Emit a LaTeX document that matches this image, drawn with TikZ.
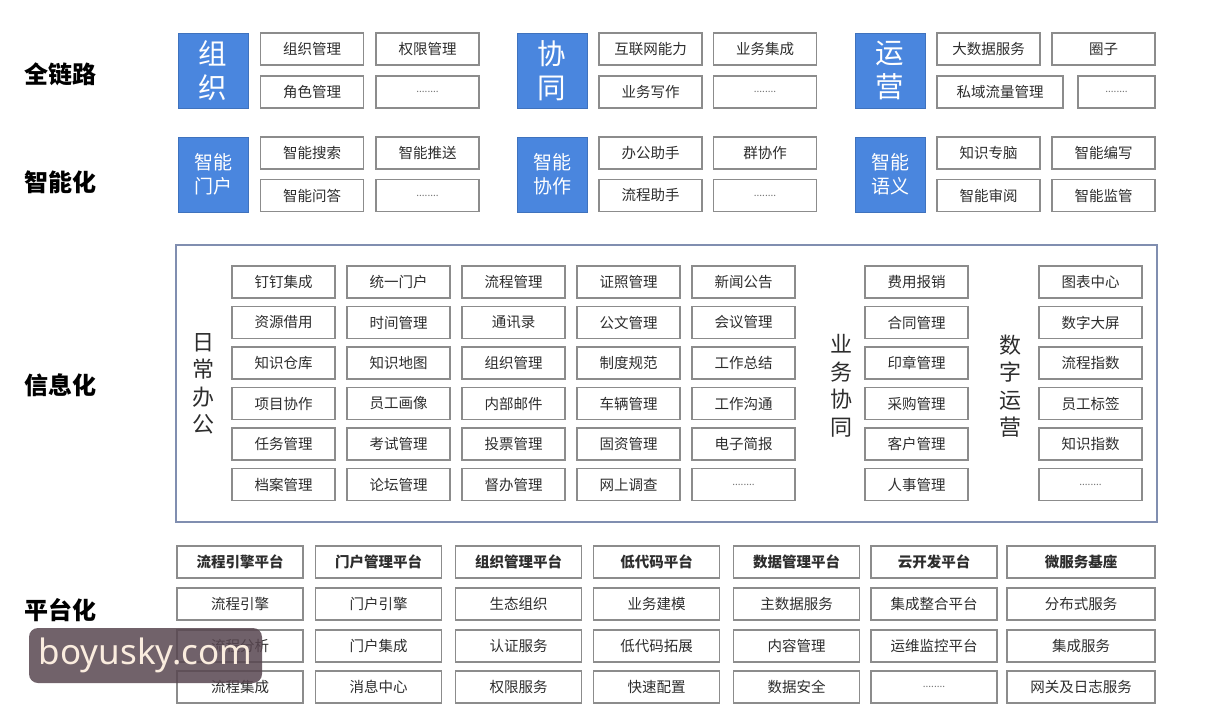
\documentclass[tikz,border=0pt]{standalone}
\usepackage{fontspec}
\setmainfont{Noto Sans CJK SC}
\newfontfamily\markfont{Noto Sans}
\usepackage{tikz}
\definecolor{headblue}{RGB}{74,134,222}
\definecolor{boxline}{RGB}{140,140,140}
\definecolor{frameline}{RGB}{128,142,176}
\definecolor{inktext}{RGB}{45,45,45}
\definecolor{markfill}{RGB}{88,70,80}
\definecolor{markink}{RGB}{250,236,222}
\tikzset{
  cell/.style={draw=boxline,line width=1.1pt,fill=white,minimum width=103pt,minimum height=32pt,inner sep=0pt,text=inktext,font=\fontsize{14.5}{16}\selectfont},
  dotcell/.style={cell,font=\fontsize{10}{12}\selectfont,text=black!55},
  platcell/.style={cell,minimum width=126pt},
  plathead/.style={platcell,font=\fontsize{14.5}{16}\selectfont\bfseries},
  headbox/.style={fill=headblue,draw=headblue!85!black,line width=0.8pt,minimum width=70pt,minimum height=75pt,inner sep=0pt,text=white,align=center},
  bighead/.style={headbox,font=\fontsize{28.5}{34}\selectfont},
  smallhead/.style={headbox,font=\fontsize{19}{24}\selectfont},
  tier/.style={font=\fontsize{24}{26}\selectfont\bfseries,text=black},
  colname/.style={font=\fontsize{22}{27.5}\selectfont,text=inktext,align=center}
}

\begin{document}
\begin{tikzpicture}[x=1pt,y=-1pt]
\useasboundingbox (0,0) rectangle (1215,712);
% tier labels on the left
\node[tier] (tFull) at (60,74) {全链路};
\node[tier] (tSmart) at (60,182) {智能化};
\node[tier] (tInfo) at (60,385) {信息化};
\node[tier] (tPlat) at (60,610) {平台化};
% full chain: org, collab, ops
\node[bighead] (org) at (213,70.5) {组\\织};
\node[cell] (org1) at (312,49) {组织管理};
\node[cell] (org2) at (427.5,49) {权限管理};
\node[cell] (org3) at (312,92) {角色管理};
\node[dotcell] (org4) at (427.5,92) {........};
\node[bighead] (col) at (552,70.5) {协\\同};
\node[cell] (col1) at (650.5,49) {互联网能力};
\node[cell] (col2) at (765,49) {业务集成};
\node[cell] (col3) at (650.5,92) {业务写作};
\node[dotcell] (col4) at (765,92) {........};
\node[bighead] (ops) at (890,70.5) {运\\营};
\node[cell] (ops1) at (988.5,49) {大数据服务};
\node[cell] (ops2) at (1103.5,49) {圈子};
\node[cell,minimum width=126pt] (ops3) at (1000,92) {私域流量管理};
\node[dotcell,minimum width=77pt] (ops4) at (1116.5,92) {........};
% smart layer
\node[smallhead] (aiP) at (213,174.5) {智能\\门户};
\node[cell] (aiP1) at (312,153) {智能搜索};
\node[cell] (aiP2) at (427.5,153) {智能推送};
\node[cell] (aiP3) at (312,195.5) {智能问答};
\node[dotcell] (aiP4) at (427.5,195.5) {........};
\node[smallhead] (aiC) at (552,174.5) {智能\\协作};
\node[cell] (aiC1) at (650.5,153) {办公助手};
\node[cell] (aiC2) at (765,153) {群协作};
\node[cell] (aiC3) at (650.5,195.5) {流程助手};
\node[dotcell] (aiC4) at (765,195.5) {........};
\node[smallhead] (aiS) at (890,174.5) {智能\\语义};
\node[cell] (aiS1) at (988.5,153) {知识专脑};
\node[cell] (aiS2) at (1103.5,153) {智能编写};
\node[cell] (aiS3) at (988.5,195.5) {智能审阅};
\node[cell] (aiS4) at (1103.5,195.5) {智能监管};
% information layer frame
\node[draw=frameline,line width=1.5pt,minimum width=981pt,minimum height=277pt,inner sep=0pt] (frame) at (666.5,383.5) {};
\node[colname] (daily) at (203,384) {日\\常\\办\\公};
\node[colname] (biz) at (841,386) {业\\务\\协\\同};
\node[colname] (dig) at (1010,386) {数\\字\\运\\营};
% daily office grid
\node[cell] (d11) at (283.5,282) {钉钉集成};
\node[cell] (d12) at (398.5,282) {统一门户};
\node[cell] (d13) at (513.5,282) {流程管理};
\node[cell] (d14) at (628.5,282) {证照管理};
\node[cell] (d15) at (743.5,282) {新闻公告};
\node[cell] (d21) at (283.5,322.5) {资源借用};
\node[cell] (d22) at (398.5,322.5) {时间管理};
\node[cell] (d23) at (513.5,322.5) {通讯录};
\node[cell] (d24) at (628.5,322.5) {公文管理};
\node[cell] (d25) at (743.5,322.5) {会议管理};
\node[cell] (d31) at (283.5,363) {知识仓库};
\node[cell] (d32) at (398.5,363) {知识地图};
\node[cell] (d33) at (513.5,363) {组织管理};
\node[cell] (d34) at (628.5,363) {制度规范};
\node[cell] (d35) at (743.5,363) {工作总结};
\node[cell] (d41) at (283.5,403.5) {项目协作};
\node[cell] (d42) at (398.5,403.5) {员工画像};
\node[cell] (d43) at (513.5,403.5) {内部邮件};
\node[cell] (d44) at (628.5,403.5) {车辆管理};
\node[cell] (d45) at (743.5,403.5) {工作沟通};
\node[cell] (d51) at (283.5,444) {任务管理};
\node[cell] (d52) at (398.5,444) {考试管理};
\node[cell] (d53) at (513.5,444) {投票管理};
\node[cell] (d54) at (628.5,444) {固资管理};
\node[cell] (d55) at (743.5,444) {电子简报};
\node[cell] (d61) at (283.5,484.5) {档案管理};
\node[cell] (d62) at (398.5,484.5) {论坛管理};
\node[cell] (d63) at (513.5,484.5) {督办管理};
\node[cell] (d64) at (628.5,484.5) {网上调查};
\node[dotcell] (d65) at (743.5,484.5) {........};
% business and digital columns
\node[cell] (biz1) at (916.5,282) {费用报销};
\node[cell] (biz2) at (916.5,322.5) {合同管理};
\node[cell] (biz3) at (916.5,363) {印章管理};
\node[cell] (biz4) at (916.5,403.5) {采购管理};
\node[cell] (biz5) at (916.5,444) {客户管理};
\node[cell] (biz6) at (916.5,484.5) {人事管理};
\node[cell] (dig1) at (1090.5,282) {图表中心};
\node[cell] (dig2) at (1090.5,322.5) {数字大屏};
\node[cell] (dig3) at (1090.5,363) {流程指数};
\node[cell] (dig4) at (1090.5,403.5) {员工标签};
\node[cell] (dig5) at (1090.5,444) {知识指数};
\node[dotcell] (dig6) at (1090.5,484.5) {........};
% platform layer
\node[plathead] (p11) at (240,562) {流程引擎平台};
\node[plathead] (p21) at (378.5,562) {门户管理平台};
\node[plathead] (p31) at (518.5,562) {组织管理平台};
\node[plathead] (p41) at (656.5,562) {低代码平台};
\node[plathead] (p51) at (796.5,562) {数据管理平台};
\node[plathead] (p61) at (934,562) {云开发平台};
\node[plathead,minimum width=148pt] (p71) at (1081,562) {微服务基座};
\node[platcell] (p12) at (240,604) {流程引擎};
\node[platcell] (p22) at (378.5,604) {门户引擎};
\node[platcell] (p32) at (518.5,604) {生态组织};
\node[platcell] (p42) at (656.5,604) {业务建模};
\node[platcell] (p52) at (796.5,604) {主数据服务};
\node[platcell] (p62) at (934,604) {集成整合平台};
\node[platcell,minimum width=148pt] (p72) at (1081,604) {分布式服务};
\node[platcell] (p13) at (240,646) {流程分析};
\node[platcell] (p23) at (378.5,646) {门户集成};
\node[platcell] (p33) at (518.5,646) {认证服务};
\node[platcell] (p43) at (656.5,646) {低代码拓展};
\node[platcell] (p53) at (796.5,646) {内容管理};
\node[platcell] (p63) at (934,646) {运维监控平台};
\node[platcell,minimum width=148pt] (p73) at (1081,646) {集成服务};
\node[platcell] (p14) at (240,687) {流程集成};
\node[platcell] (p24) at (378.5,687) {消息中心};
\node[platcell] (p34) at (518.5,687) {权限服务};
\node[platcell] (p44) at (656.5,687) {快速配置};
\node[platcell] (p54) at (796.5,687) {数据安全};
\node[dotcell,minimum width=126pt] (p64) at (934,687) {........};
\node[platcell,minimum width=148pt] (p74) at (1081,687) {网关及日志服务};
% site mark over the corner
\node[fill=markfill,fill opacity=0.85,text opacity=1,rounded corners=9pt,minimum width=233pt,minimum height=55pt,inner sep=0pt,text=markink,font=\markfont\fontsize{35}{40}\selectfont] (mark) at (145.5,655.5) {boyusky.com};
\end{tikzpicture}
\end{document}
